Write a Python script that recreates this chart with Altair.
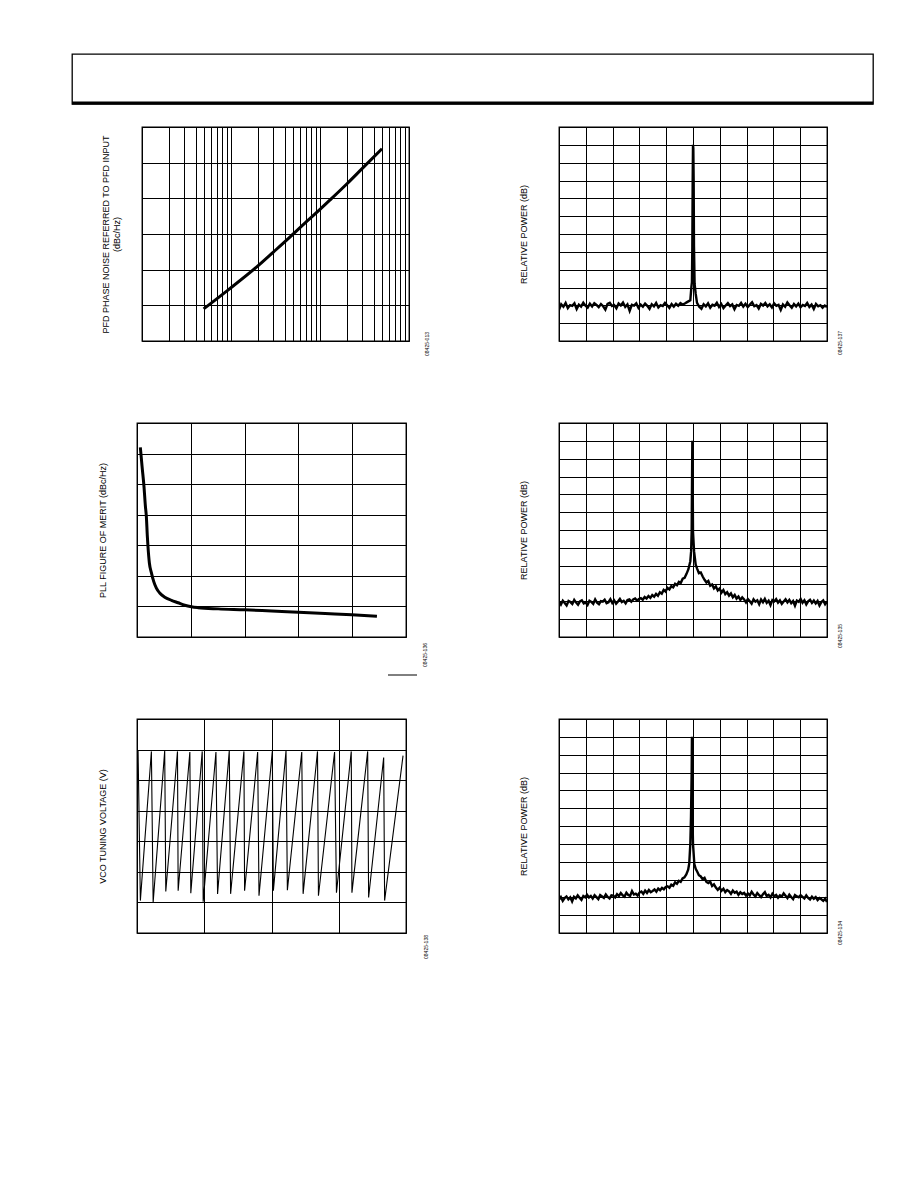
import altair as alt
import numpy as np
import pandas as pd

FONT = "Liberation Sans"
INK = "black"

# ---------------- PFD phase noise referred to PFD input (log frequency axis) ----------------
pfd_freq = [49.3, 91.7, 197.6, 301.6, 472.0, 714.0, 1000.0, 1329.0, 2011.0, 2990.0, 4973.0]
pfd_noise = [-151.0, -145.8, -139.1, -135.0, -130.6, -126.4, -123.1, -120.2, -115.9, -111.6, -106.1]
log_grid = [m * 10 ** e for e in (1, 2, 3) for m in range(1, 10)] + [10000]

# ---------------- PLL figure of merit ----------------
fom_x = [0.031, 0.047, 0.065, 0.078, 0.087, 0.096, 0.102, 0.115, 0.134, 0.155, 0.180, 0.211,
         0.258, 0.320, 0.382, 0.444, 0.506, 0.568, 0.755, 1.000, 1.252, 1.500, 1.748, 1.997, 2.230]
fom_y = [-194.0, -197.1, -200.4, -203.6, -205.3, -208.5, -210.2, -212.9, -214.5, -215.9, -217.0,
         -217.8, -218.5, -219.0, -219.4, -219.8, -220.05, -220.2, -220.4, -220.55, -220.75,
         -220.95, -221.15, -221.35, -221.6]

# ---------------- VCO tuning voltage sawtooth ----------------
lead_t = [0.0, 0.8]
lead_v = [2.45, 2.98]
ramp_t_start = [2.5, 12.0, 21.4, 30.6, 40.0, 49.2, 59.9, 69.6, 80.0, 90.7, 101.4, 111.8,
                123.5, 134.9, 148.3, 159.8, 172.2, 184.1]
ramp_t_end = [10.7, 20.6, 30.1, 39.3, 48.5, 58.7, 68.6, 79.5, 89.7, 100.6, 110.8, 122.5,
              134.2, 146.9, 159.3, 171.5, 183.4, 197.8]
ramp_v_low = [0.53, 0.50, 0.68, 0.69, 0.65, 0.51, 0.64, 0.64, 0.69, 0.61, 0.69, 0.70,
              0.64, 0.61, 0.66, 0.66, 0.58, 0.53]
ramp_v_high = [2.97, 2.98, 2.97, 2.96, 2.97, 2.96, 2.98, 2.97, 2.96, 2.97, 2.98, 2.96,
               2.97, 2.96, 2.97, 2.97, 2.87, 2.90]

# ---------------- Spectrum traces (offset in divisions, dB) ----------------
spA_left = [-92.5, -89.4, -90.8, -88.7, -91.6, -89.9, -90.3, -88.9, -92.1, -89.6, -90.7, -88.5,
            -90.2, -91.3, -89.1, -90.6, -88.8, -89.7, -91.0, -89.3, -90.5, -92.4, -89.2, -88.6,
            -90.4, -89.8, -91.7, -89.0, -90.1, -88.4, -90.9, -89.5, -93.1, -89.7, -90.2, -88.9,
            -91.4, -89.6, -90.8, -89.0, -90.3, -92.0, -89.4, -90.6, -88.7, -91.2, -89.9, -90.4,
            -88.6, -90.0, -91.5, -89.3, -90.7, -89.1, -90.2, -88.8, -89.6, -89.0, -88.2, -87.5]
spA_core_x = [-0.10, -0.06, -0.04, -0.025, -0.012, 0.0, 0.012, 0.025, 0.037, 0.06, 0.10]
spA_core_db = [-87.2, -79.7, -77.0, -57.0, -20.8, 0.0, -2.0, -20.8, -57.0, -78.0, -83.5]
spA_right = [-88.6, -90.8, -91.9, -89.4, -90.6, -88.9, -91.3, -89.7, -90.2, -88.5, -90.9, -89.2,
             -91.6, -90.1, -88.8, -90.4, -89.5, -92.2, -89.8, -90.3, -88.6, -90.7, -89.1, -91.0,
             -89.6, -88.3, -90.5, -89.9, -91.8, -89.2, -90.1, -88.7, -90.6, -89.4, -91.2, -88.9,
             -90.3, -89.7, -92.6, -89.5, -90.8, -88.4, -90.0, -91.4, -89.3, -90.6, -89.0, -91.1,
             -89.8, -90.4, -88.7, -90.9, -89.6, -92.0, -89.2, -90.5, -89.9, -91.3, -90.1, -91.0]

spB_left = [-90.1, -91.8, -89.6, -90.9, -92.3, -89.8, -90.4, -91.5, -89.2, -90.7, -91.9, -90.0,
            -89.4, -91.2, -90.6, -92.0, -89.7, -90.3, -91.4, -88.9, -90.8, -91.6, -89.9, -90.2,
            -89.1, -91.0, -90.5, -88.8, -90.9, -89.5, -91.3, -90.1, -88.6, -90.4, -89.7, -91.1,
            -89.3, -88.9, -90.2, -89.0, -88.4, -89.6, -88.7,
            -88.2, -89.1, -87.6, -88.4, -87.0, -88.1, -86.5, -87.4, -85.8, -86.9, -84.9, -85.7,
            -83.6, -84.5, -82.4, -83.3, -81.5, -82.1, -80.2, -81.0, -79.1, -79.6, -77.3, -76.8,
            -74.6, -72.0, -67.5]
spB_core_x = [-0.07, -0.05, -0.04, -0.025, -0.0125, 0.0, 0.04, 0.10]
spB_core_db = [-62.0, -51.0, -30.0, 0.0, -21.0, -51.0, -62.0, -69.4]
spB_right = [-71.5, -74.2, -73.8, -76.1, -77.9, -79.4, -78.6, -81.2, -80.5, -82.7, -81.6, -83.9,
             -82.8, -85.1, -83.7, -86.0, -84.9, -86.8, -85.6, -87.7, -86.4, -88.5, -87.3, -89.2,
             -87.8, -88.9,
             -90.6, -88.7, -89.9, -91.3, -88.9, -90.2, -89.4, -91.6, -89.0, -90.5, -88.6, -90.9,
             -89.7, -92.1, -89.3, -90.0, -88.8, -90.7, -89.5, -91.4, -90.1, -88.9, -90.6, -89.2,
             -91.0, -89.8, -92.4, -89.6, -90.3, -88.7, -90.8, -89.4, -91.7, -90.0, -89.1, -90.9,
             -89.6, -91.2, -89.8, -92.3, -90.4, -89.5, -91.6, -90.2]

spC_left = [-91.2, -89.8, -92.0, -90.4, -89.5, -91.1, -90.0, -92.3, -89.7, -90.6, -88.9, -90.2,
            -91.4, -89.3, -90.0,
            -88.6, -90.1, -89.2, -90.7, -88.8, -89.9, -91.0, -88.7, -89.5, -90.3, -88.4, -89.8,
            -90.6, -88.9, -89.1,
            -90.0, -88.2, -89.3, -87.6, -88.9, -89.6, -87.4, -88.7, -89.2, -86.5, -88.4, -87.9,
            -89.0, -87.3,
            -86.7, -88.0, -86.2, -87.5, -85.9, -87.1, -86.4, -85.6, -86.8, -85.1, -86.0, -84.7,
            -85.5, -84.2,
            -83.8, -84.6, -82.9, -83.5, -81.6, -82.4, -80.7, -81.3, -79.4, -78.8, -77.2, -74.5]
spC_core_x = [-0.14, -0.10, -0.075, -0.05, -0.04, -0.03, -0.025, 0.0, 0.05, 0.10]
spC_core_db = [-71.0, -60.0, -45.0, -20.0, 0.0, -20.0, -41.4, -60.0, -71.3, -74.0]
spC_right = [-75.4, -77.6, -78.3, -79.9, -79.1, -81.4, -82.0, -81.2, -83.6, -82.7, -84.5, -85.8,
             -84.6, -86.3, -85.2, -87.1, -85.9, -86.6, -88.0, -86.2, -87.4, -86.8, -88.6, -87.2,
             -88.1,
             -87.5, -89.0, -87.8, -88.9, -86.9, -88.4, -89.5, -87.6, -88.8, -89.9, -88.2, -87.1,
             -89.3, -88.6, -90.1, -88.0, -89.4, -88.7,
             -90.2, -88.9, -89.6, -87.8, -89.1, -90.4, -88.5, -89.8, -91.0, -88.7, -89.5, -90.0,
             -88.8,
             -89.7, -90.6, -88.9, -90.3, -91.2, -89.6, -90.8, -89.9, -91.5, -90.4, -91.1, -92.0,
             -90.7, -92.6]

# figure reference codes
fig_codes = ["08425-013", "08425-137", "08425-136", "08425-135", "08425-138", "08425-134"]

PLOT_H = 214
ROW_GAP = 82
one = pd.DataFrame({"k": [0]})


def bare_axis(values, title=None, pad=0):
    kw = dict(values=values, labels=False, ticks=False, domain=False, grid=True,
              gridColor=INK, gridOpacity=1, gridWidth=1)
    if title is not None:
        kw.update(title=title, titlePadding=pad)
    else:
        kw.update(title=None)
    return alt.Axis(**kw)


def code_label(code, dx, dy):
    return alt.Chart(one).mark_text(angle=270, fontSize=5, font=FONT, color=INK).encode(
        x=alt.value(dx), y=alt.value(dy), text=alt.value(code))


def spectrum(left, left_end, core_x, core_db, right, title_pad, code, width, cdx, cdy):
    f = list(np.linspace(-5, left_end, len(left))) + core_x + list(np.linspace(0.15, 5, len(right)))
    p = left + core_db + right
    df = pd.DataFrame({"f": f, "p": p})
    trace = alt.Chart(df).mark_line(color=INK, strokeWidth=2.4, clip=True).encode(
        x=alt.X("f:Q", scale=alt.Scale(domain=[-5, 5], nice=False),
                axis=bare_axis(list(range(-5, 6)))),
        y=alt.Y("p:Q", scale=alt.Scale(domain=[-110, 10], nice=False),
                axis=bare_axis(list(range(-110, 11, 10)), "RELATIVE POWER (dB)", title_pad)),
    )
    return alt.layer(trace, code_label(code, cdx, cdy)).properties(width=width, height=PLOT_H)


# Panel: PFD phase noise
pfd_df = pd.DataFrame({"f": pfd_freq, "n": pfd_noise})
pfd_line = alt.Chart(pfd_df).mark_line(color=INK, strokeWidth=3, clip=True, interpolate="monotone").encode(
    x=alt.X("f:Q", scale=alt.Scale(type="log", domain=[10, 10000], nice=False), axis=bare_axis(log_grid)),
    y=alt.Y("n:Q", scale=alt.Scale(domain=[-160, -100], nice=False),
            axis=bare_axis(list(range(-160, -99, 10)),
                           ["PFD PHASE NOISE REFERRED TO PFD INPUT", "(dBc/Hz)"], 21)),
)
p1 = alt.layer(pfd_line, code_label(fig_codes[0], 285, 217)).properties(width=267, height=PLOT_H)

# Panel: PLL figure of merit
fom_df = pd.DataFrame({"x": fom_x, "y": fom_y})
fom_line = alt.Chart(fom_df).mark_line(color=INK, strokeWidth=3, clip=True, interpolate="monotone").encode(
    x=alt.X("x:Q", scale=alt.Scale(domain=[0, 2.5], nice=False), axis=bare_axis([0, 0.5, 1, 1.5, 2, 2.5])),
    y=alt.Y("y:Q", scale=alt.Scale(domain=[-225, -190], nice=False),
            axis=bare_axis(list(range(-225, -189, 5)), "PLL FIGURE OF MERIT (dBc/Hz)", 30)),
)
stray = alt.Chart(one).mark_rule(color=INK, strokeWidth=1).encode(
    x=alt.value(251), x2=alt.value(280), y=alt.value(252))
p3 = alt.layer(fom_line, stray, code_label(fig_codes[2], 288, 232)).properties(width=269, height=PLOT_H)

# Panel: VCO tuning voltage sawtooth
saw_t, saw_v = list(lead_t), list(lead_v)
for ts, te, vl, vh in zip(ramp_t_start, ramp_t_end, ramp_v_low, ramp_v_high):
    saw_t += [ts, te]
    saw_v += [vl, vh]
saw_df = pd.DataFrame({"t": saw_t, "v": saw_v, "i": range(len(saw_t))})
saw_line = alt.Chart(saw_df).mark_line(color=INK, strokeWidth=1.1, clip=True).encode(
    x=alt.X("t:Q", scale=alt.Scale(domain=[0, 200], nice=False), axis=bare_axis([0, 50, 100, 150, 200])),
    y=alt.Y("v:Q", scale=alt.Scale(domain=[0, 3.5], nice=False),
            axis=bare_axis([0, 0.5, 1, 1.5, 2, 2.5, 3, 3.5], "VCO TUNING VOLTAGE (V)", 30)),
    order="i:Q",
)
p5 = alt.layer(saw_line, code_label(fig_codes[4], 289, 228)).properties(width=269, height=PLOT_H)

# Spectrum panels
p2 = spectrum(spA_left, -0.14, spA_core_x, spA_core_db, spA_right, 31, fig_codes[1], 268, 281, 216)
p4 = spectrum(spB_left, -0.10, spB_core_x, spB_core_db, spB_right, 31, fig_codes[3], 268, 281, 213)
p6 = spectrum(spC_left, -0.18, spC_core_x, spC_core_db, spC_right, 31, fig_codes[5], 268, 281, 214)


def spacer(w):
    return alt.Chart(one).mark_point(opacity=0, size=1).encode(
        x=alt.value(w / 2), y=alt.value(PLOT_H / 2)).properties(
        width=w, height=PLOT_H, view=alt.ViewBackground(stroke="transparent"))


row1 = alt.hconcat(spacer(70), alt.hconcat(p1, p2, spacing=150, bounds="flush"), spacing=0, bounds="flush")
row2 = alt.hconcat(spacer(65), alt.hconcat(p3, p4, spacing=153, bounds="flush"), spacing=0, bounds="flush")
row3 = alt.hconcat(spacer(65), alt.hconcat(p5, p6, spacing=153, bounds="flush"), spacing=0, bounds="flush")
# nested rows carry no height of their own in a flush layout, so the step is row height + gap
body = alt.vconcat(row1, row2, row3, spacing=PLOT_H + ROW_GAP, bounds="flush")

# Page header box with heavy bottom rule
header = alt.Chart(one).mark_rule(color=INK, strokeWidth=3).encode(
    x=alt.value(0), x2=alt.value(801), y=alt.value(49)).properties(width=801, height=50)

chart = (
    alt.vconcat(header, body, spacing=23, bounds="flush")
    .properties(padding={"left": 69, "top": 53, "right": 10, "bottom": 10}, background="white")
    .configure(font=FONT)
    .configure_view(stroke=INK, strokeWidth=1.3)
    .configure_axis(titleFont=FONT, titleFontSize=9, titleFontWeight="normal", titleColor=INK)
)

chart.save("out.html", embed_options={"renderer": "svg", "actions": False})
